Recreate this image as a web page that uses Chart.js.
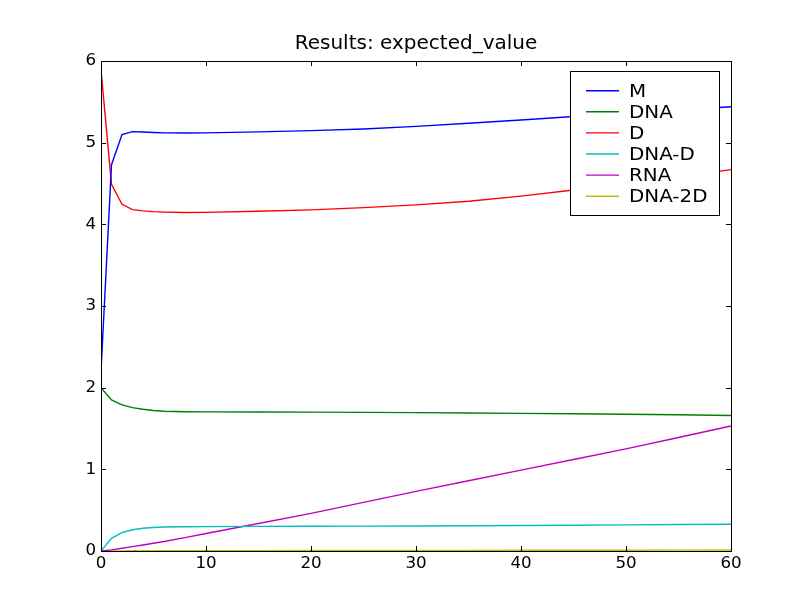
<!DOCTYPE html>
<html><head><meta charset="utf-8">
<script src="https://cdn.jsdelivr.net/npm/chart.js@4/dist/chart.umd.min.js"></script>
<style>html,body{margin:0;padding:0;background:#fff;}canvas{display:block;}</style>
</head><body>
<canvas id="c" width="812" height="612"></canvas>
<script>
const chartTitle = "Results: expected_value";
const timePoints = [0, 1, 2, 3, 4, 5, 6, 8, 10, 15, 20, 25, 30, 35, 40, 45, 50, 55, 60];
const seriesNames = ["M", "DNA", "D", "DNA-D", "RNA", "DNA-2D"];
const valuesM     = [2.2, 4.73, 5.10, 5.135, 5.13, 5.125, 5.12, 5.118, 5.12, 5.132, 5.148, 5.168, 5.20, 5.238, 5.278, 5.32, 5.36, 5.40, 5.44];
const valuesDNA   = [2.0, 1.85, 1.79, 1.755, 1.735, 1.72, 1.712, 1.705, 1.703, 1.702, 1.70, 1.698, 1.695, 1.69, 1.685, 1.68, 1.675, 1.668, 1.66];
const valuesD     = [5.89, 4.49, 4.245, 4.18, 4.165, 4.155, 4.15, 4.145, 4.147, 4.16, 4.177, 4.205, 4.238, 4.283, 4.345, 4.42, 4.497, 4.58, 4.67];
const valuesDNAD  = [0.0, 0.155, 0.225, 0.26, 0.278, 0.288, 0.293, 0.297, 0.299, 0.301, 0.303, 0.305, 0.306, 0.309, 0.312, 0.316, 0.32, 0.324, 0.327];
const valuesRNA   = [0.0, 0.014, 0.033, 0.053, 0.074, 0.095, 0.116, 0.164, 0.215, 0.337, 0.46, 0.595, 0.73, 0.86, 0.99, 1.12, 1.25, 1.39, 1.53];
const valuesDNA2D = [0.0, 0.001, 0.002, 0.003, 0.003, 0.004, 0.004, 0.004, 0.005, 0.005, 0.006, 0.007, 0.007, 0.008, 0.009, 0.010, 0.010, 0.011, 0.012];
const seriesColors = ["#0000ff", "#008000", "#ff0000", "#00bfbf", "#bf00bf", "#bfbf00"];
const xTicks = [0, 10, 20, 30, 40, 50, 60];
const yTicks = [0, 1, 2, 3, 4, 5, 6];

const allValues = [valuesM, valuesDNA, valuesD, valuesDNAD, valuesRNA, valuesDNA2D];
const FONT = "'DejaVu Sans', sans-serif";

const datasets = seriesNames.map((name, i) => ({
  label: name,
  data: timePoints.map((t, j) => ({ x: t, y: allValues[i][j] })),
  borderColor: seriesColors[i],
  backgroundColor: seriesColors[i],
  borderWidth: 1.4,
  pointRadius: 0,
  fill: false,
  tension: 0
}));

const decor = {
  id: 'decor',
  afterDraw(chart) {
    const ctx = chart.ctx;
    const a = chart.chartArea;
    const xs = chart.scales.x, ys = chart.scales.y;
    ctx.save();
    ctx.strokeStyle = '#000';
    ctx.lineWidth = 1;
    const tl = 5;
    ctx.beginPath();
    xTicks.forEach(v => {
      const px = Math.round(xs.getPixelForValue(v)) + 0.5;
      ctx.moveTo(px, a.bottom); ctx.lineTo(px, a.bottom - tl);
      ctx.moveTo(px, a.top); ctx.lineTo(px, a.top + tl);
    });
    yTicks.forEach(v => {
      const py = Math.round(ys.getPixelForValue(v)) + 0.5;
      ctx.moveTo(a.left, py); ctx.lineTo(a.left + tl, py);
      ctx.moveTo(a.right, py); ctx.lineTo(a.right - tl, py);
    });
    ctx.stroke();
    ctx.strokeRect(Math.round(a.left) + 0.5, Math.round(a.top) + 0.5,
                   Math.round(a.right - a.left), Math.round(a.bottom - a.top));
    // title
    ctx.fillStyle = '#000';
    ctx.font = "20px " + FONT;
    ctx.textAlign = 'center';
    ctx.textBaseline = 'alphabetic';
    ctx.fillText(chartTitle, (a.left + a.right) / 2, 49);
    // legend
    const lx = 570.5, ly = 71.5, lw = 149, lh = 144;
    ctx.fillStyle = '#fff';
    ctx.fillRect(lx, ly, lw, lh);
    ctx.strokeRect(lx, ly, lw, lh);
    ctx.textAlign = 'left';
    chart.data.datasets.forEach((ds, i) => {
      const cy = 90.7 + i * 21.1;
      ctx.strokeStyle = ds.borderColor;
      ctx.lineWidth = 1.4;
      ctx.beginPath();
      ctx.moveTo(586, cy); ctx.lineTo(619, cy);
      ctx.stroke();
      ctx.save();
      ctx.translate(629, cy + 6.2);
      ctx.scale(1.17, 1);
      ctx.font = "17px " + FONT;
      ctx.fillStyle = '#000';
      ctx.fillText(ds.label, 0, 0);
      ctx.restore();
    });
    ctx.restore();
  }
};

new Chart(document.getElementById('c'), {
  type: 'line',
  data: { datasets },
  options: {
    responsive: false,
    animation: false,
    devicePixelRatio: 1,
    layout: { padding: { top: 61, right: 81, left: 0, bottom: 0 } },
    plugins: { legend: { display: false }, title: { display: false }, tooltip: { enabled: false } },
    scales: {
      x: {
        type: 'linear', min: 0, max: 60,
        afterFit(s) { s.height = 61; },
        afterBuildTicks(s) { s.ticks = xTicks.map(v => ({ value: v })); },
        grid: { display: false, drawTicks: false },
        border: { display: false },
        ticks: { color: '#000', font: { family: FONT, size: 16.7 }, padding: 3, maxRotation: 0 }
      },
      y: {
        type: 'linear', min: 0, max: 6,
        afterFit(s) { s.width = 101; },
        afterBuildTicks(s) { s.ticks = yTicks.map(v => ({ value: v })); },
        grid: { display: false, drawTicks: false },
        border: { display: false },
        ticks: { color: '#000', font: { family: FONT, size: 16.7 }, padding: 5 }
      }
    }
  },
  plugins: [decor]
});
</script>
</body></html>
